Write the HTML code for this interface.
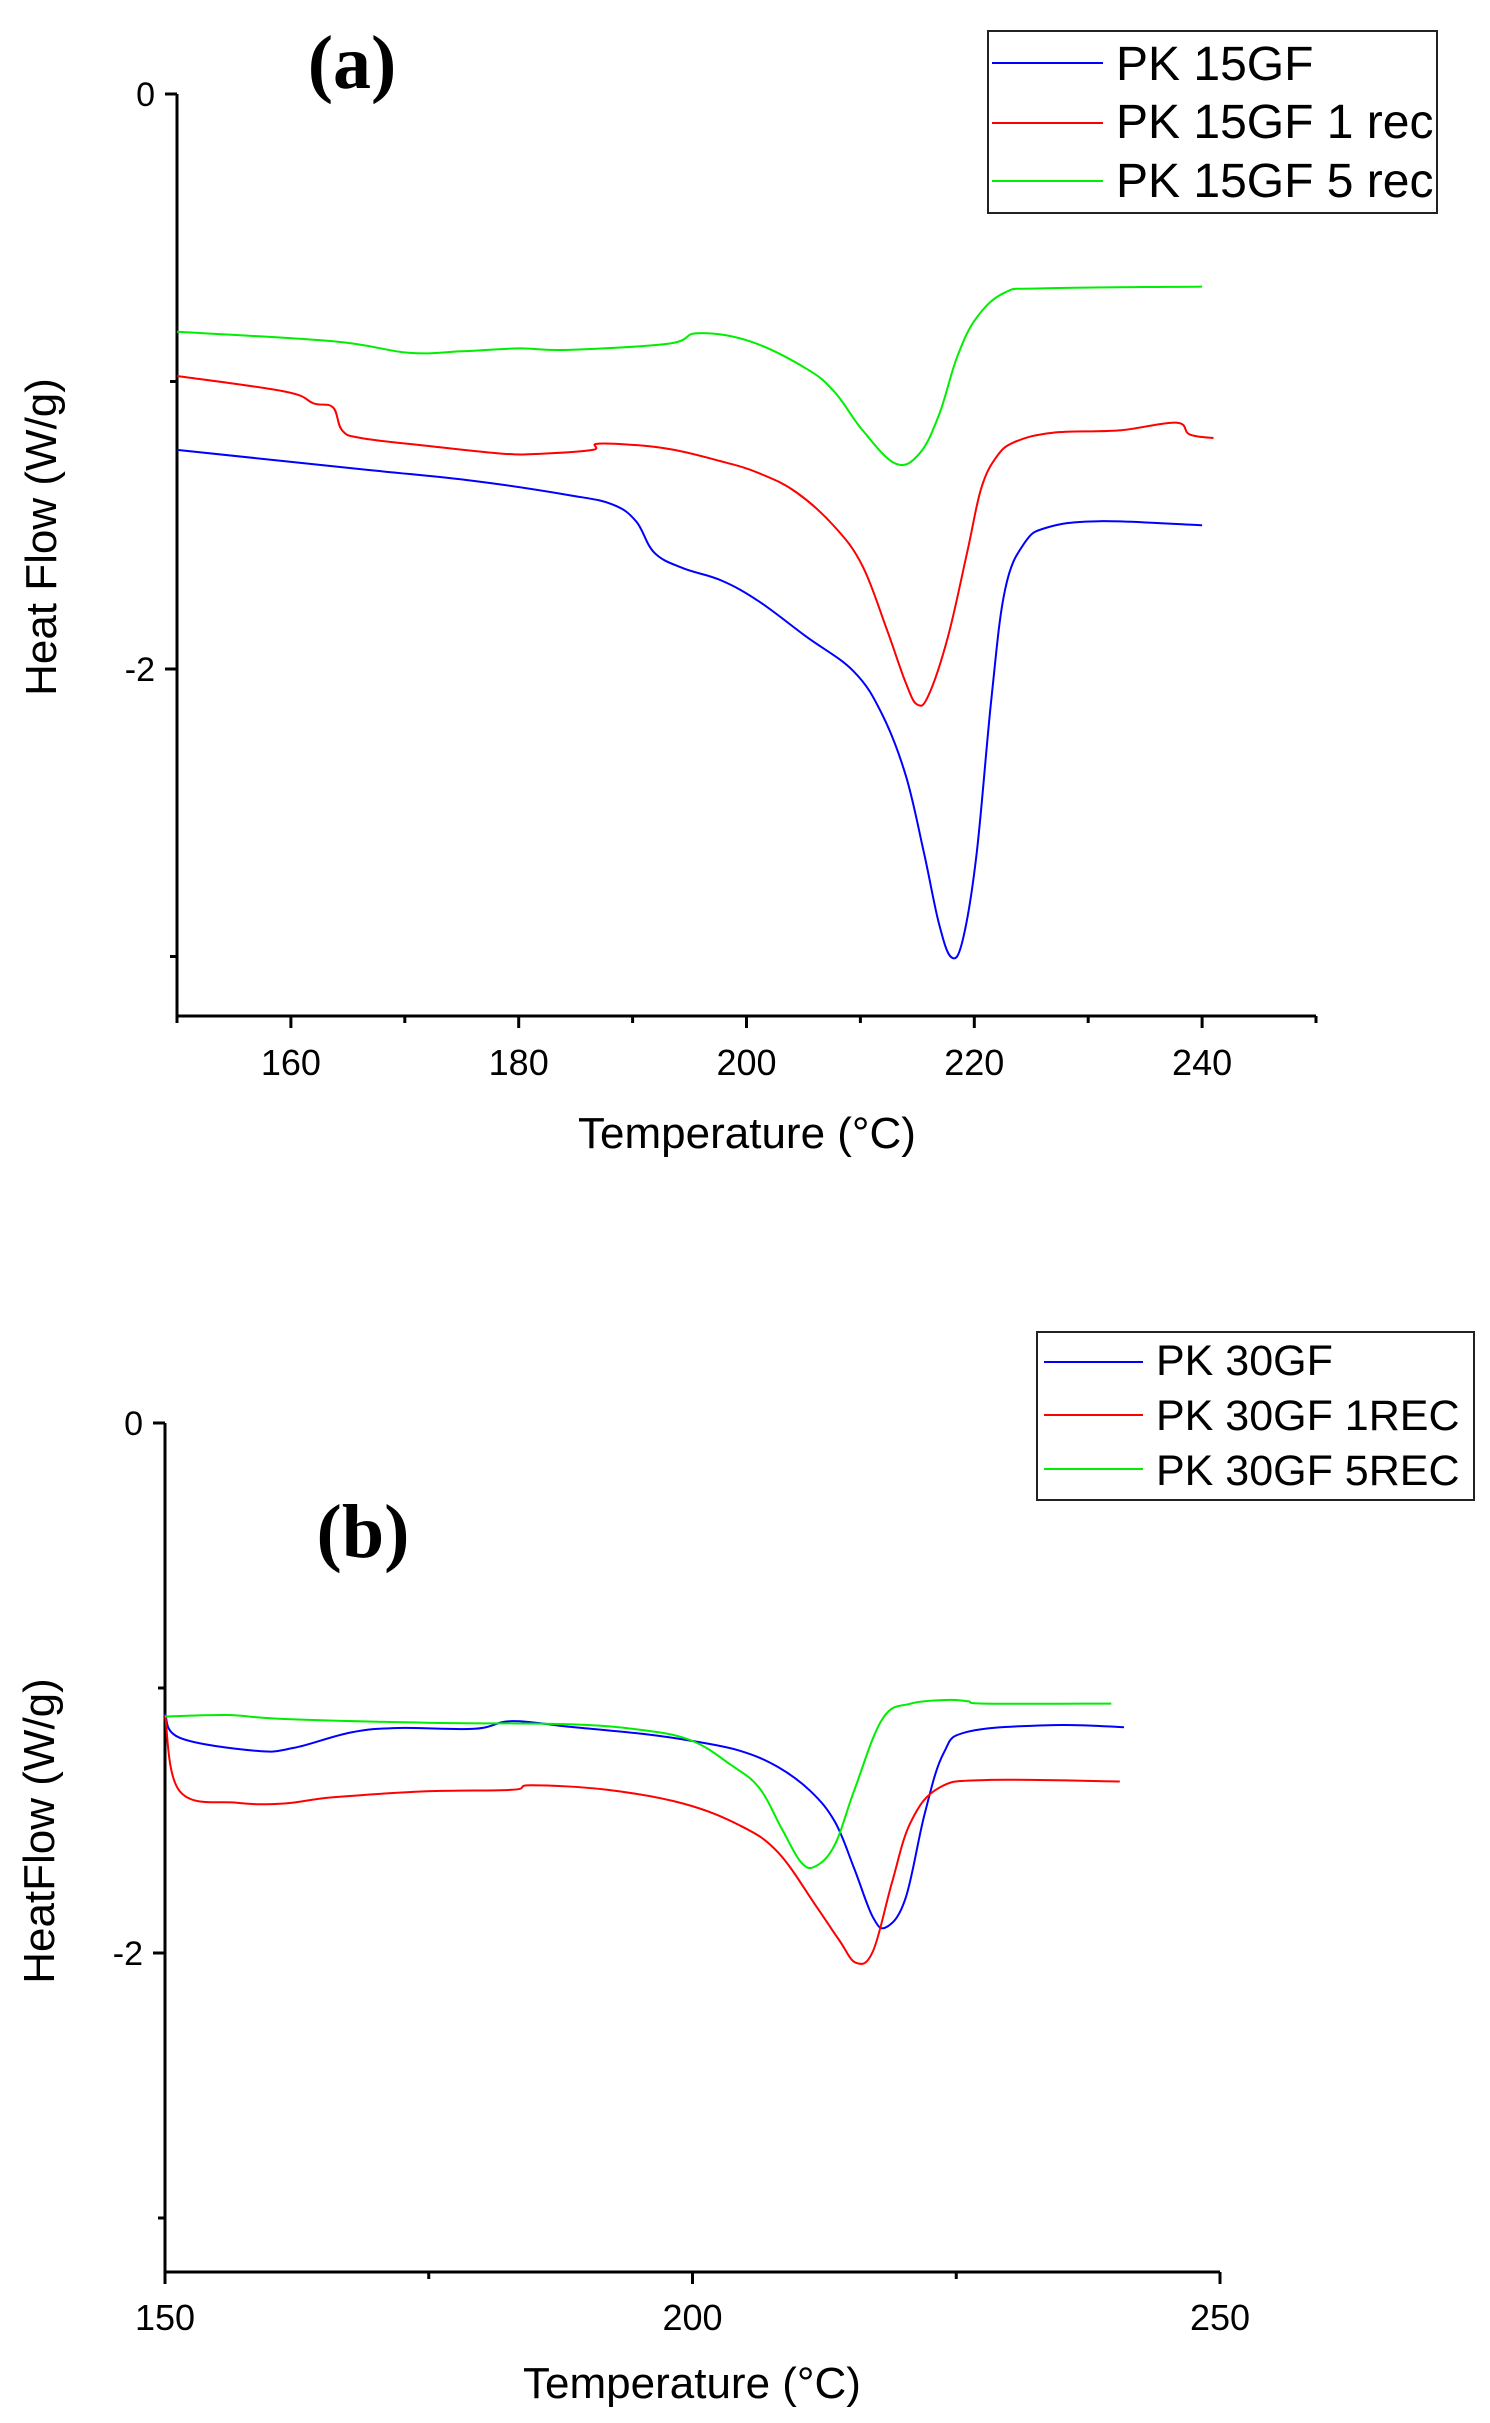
<!DOCTYPE html>
<html><head><meta charset="utf-8"><style>
html,body{margin:0;padding:0;background:#fff;}
svg{display:block;}
text{font-family:"Liberation Sans",sans-serif;fill:#000;}
</style></head><body>
<svg id="fig" width="1490" height="2423" viewBox="0 0 1490 2423" xmlns="http://www.w3.org/2000/svg">
<rect width="1490" height="2423" fill="#fff"/>
<g id="chartA"></g>
<g id="chartB"></g>
</svg>
<script>
// ---- Chart (a) data ----
const aTicksX = [160, 180, 200, 220, 240];
const aTicksY = [0, -2];
const aBlueT = [150,166.2,176.1,184.4,188.2,190.3,191.9,194.4,197.8,201.1,205.2,209.4,211.9,214,215.6,216.9,218,219,220.2,221.5,222.7,224.4,226.4,231,240];
const aBlueH = [-1.238,-1.305,-1.346,-1.395,-1.427,-1.486,-1.595,-1.649,-1.692,-1.765,-1.886,-2.008,-2.157,-2.373,-2.643,-2.886,-3.003,-2.94,-2.643,-2.103,-1.724,-1.562,-1.508,-1.486,-1.5];
const aRedT = [150,159.5,162,163.7,164.5,166.2,172,178.6,182,186.5,187.1,192.8,197.8,201.1,204.4,207.8,210.2,212.3,214,215,216,217.7,219.4,220.6,221.9,223.5,226.9,232.7,237.7,238.9,241];
const aRedH = [-0.981,-1.035,-1.076,-1.09,-1.17,-1.197,-1.224,-1.251,-1.251,-1.238,-1.216,-1.232,-1.278,-1.319,-1.386,-1.508,-1.643,-1.86,-2.05,-2.124,-2.09,-1.886,-1.589,-1.373,-1.265,-1.211,-1.178,-1.17,-1.143,-1.184,-1.197];
const aGreenT = [150,163.7,170.3,175,180,184.4,193.2,195.7,200.3,205.2,207.7,210.2,213.1,215.2,216.9,218.5,220.2,222.7,226,240];
const aGreenH = [-0.827,-0.86,-0.9,-0.895,-0.885,-0.89,-0.868,-0.832,-0.86,-0.954,-1.035,-1.17,-1.286,-1.25,-1.116,-0.914,-0.778,-0.69,-0.676,-0.67];
const aLegend = ["PK 15GF","PK 15GF 1 rec","PK 15GF 5 rec"];

// ---- Chart (b) data ----
const bTicksX = [150, 200, 250];
const bTicksY = [0, -2];
const bBlueT = [150,151.4,158.6,162.2,167.6,172.1,179.3,182.9,188.3,195.5,200,204.5,208.1,211.2,213.5,215.3,217.1,218.4,220.2,222,223.8,226.1,234.2,240.9];
const bBlueH = [-1.096,-1.188,-1.237,-1.226,-1.168,-1.151,-1.154,-1.125,-1.146,-1.174,-1.2,-1.237,-1.298,-1.39,-1.505,-1.678,-1.865,-1.902,-1.793,-1.476,-1.246,-1.165,-1.14,-1.148];
const bRedT = [150,151.4,156.8,161.3,165.8,174.8,182.9,184.7,191.9,199.1,204.5,208.1,211.7,213.9,215.5,217.1,218.9,220.7,223.4,227.9,240.5];
const bRedH = [-1.102,-1.39,-1.433,-1.436,-1.413,-1.39,-1.384,-1.367,-1.384,-1.436,-1.519,-1.62,-1.822,-1.951,-2.037,-1.994,-1.735,-1.505,-1.376,-1.347,-1.353];
const bGreenT = [150,155.9,161.3,174.8,188.3,195.5,200,203.6,206.3,208.5,210.3,211.7,213.5,215.3,218,220.7,224.3,226.1,227.9,239.7];
const bGreenH = [-1.108,-1.102,-1.117,-1.131,-1.137,-1.16,-1.2,-1.289,-1.376,-1.534,-1.658,-1.672,-1.591,-1.39,-1.117,-1.059,-1.045,-1.05,-1.059,-1.059];
const bLegend = ["PK 30GF","PK 30GF 1REC","PK 30GF 5REC"];

const NS = "http://www.w3.org/2000/svg";
function mk(parent, tag, attrs, txt){
  const e = document.createElementNS(NS, tag);
  for (const k in attrs) e.setAttribute(k, attrs[k]);
  if (txt !== undefined) e.textContent = txt;
  parent.appendChild(e);
  return e;
}
const COLORS = ["#0000ff","#ff0000","#00ee00"];

function smoothPath(pts){
  let d = "M" + pts[0][0].toFixed(1) + "," + pts[0][1].toFixed(1);
  const k = 0.18;
  for (let i = 0; i < pts.length - 1; i++){
    const p0 = pts[i-1] || pts[i], p1 = pts[i], p2 = pts[i+1], p3 = pts[i+2] || p2;
    const c1x = p1[0] + (p2[0]-p0[0])*k, c1y = p1[1] + (p2[1]-p0[1])*k;
    const c2x = p2[0] - (p3[0]-p1[0])*k, c2y = p2[1] - (p3[1]-p1[1])*k;
    d += " C" + c1x.toFixed(1) + "," + c1y.toFixed(1) + " " + c2x.toFixed(1) + "," + c2y.toFixed(1) + " " + p2[0].toFixed(1) + "," + p2[1].toFixed(1);
  }
  return d;
}

function drawChart(g, cfg){
  const sx = t => cfg.x0 + (t - cfg.tmin) * (cfg.x1 - cfg.x0) / (cfg.tmax - cfg.tmin);
  const sy = h => cfg.y0 + (0 - h) * (cfg.yM2 - cfg.y0) / 2;
  const ya = mk(g, "line", {x1:cfg.x0, y1:cfg.y0, x2:cfg.x0, y2:cfg.yb, stroke:"#000","stroke-width":3});
  
  
  const xa = mk(g, "line", {x1:cfg.x0-1, y1:cfg.yb, x2:cfg.x1, y2:cfg.yb, stroke:"#000","stroke-width":3});
  
  
  cfg.yTicks.forEach(v => {
    const y = sy(v);
    const t = mk(g, "line", {x1:cfg.x0-12, y1:y, x2:cfg.x0, y2:y, stroke:"#000","stroke-width":3});
    
    
    const l = mk(g, "text", {x:cfg.x0-22, y:y+12, "text-anchor":"end","font-size":34}, String(v));
    
    
  });
  cfg.yMinor.forEach(v => {
    const y = sy(v);
    const t = mk(g, "line", {x1:cfg.x0-7, y1:y, x2:cfg.x0, y2:y, stroke:"#000","stroke-width":3});
    
    
  });
  cfg.xMinor.forEach(v => {
    const x = sx(v);
    const t = mk(g, "line", {x1:x, y1:cfg.yb, x2:x, y2:cfg.yb+7, stroke:"#000","stroke-width":3});
    
    
  });
  cfg.xTicks.forEach(v => {
    const x = sx(v);
    const t = mk(g, "line", {x1:x, y1:cfg.yb, x2:x, y2:cfg.yb+12, stroke:"#000","stroke-width":3});
    
    
    const l = mk(g, "text", {x:x, y:cfg.xLabY, "text-anchor":"middle","font-size":36}, String(v));
    
    
  });
  const xt = mk(g, "text", {x:cfg.xTitleX, y:cfg.xTitleY, "text-anchor":"middle","font-size":44}, "Temperature (°C)");
  
  
  const yt = mk(g, "text", {x:0, y:0, "text-anchor":"middle","font-size":44, transform:`translate(${cfg.yTitleX},${cfg.yTitleY}) rotate(-90)`}, cfg.yTitle);
  
  
  const pl = mk(g, "text", {x:cfg.panelX, y:cfg.panelY, "text-anchor":"middle","font-size":76,"font-weight":"bold",style:"font-family:'Liberation Serif',serif"}, cfg.panel);
  
  
  cfg.series.forEach((s, i) => {
    const pts = s.T.map((t, k) => [sx(t), sy(s.H[k])]);
    const p = mk(g, "path", {d:smoothPath(pts), fill:"none", stroke:COLORS[i], "stroke-width":2, "stroke-linejoin":"round"});
    
    
  });
  const L = cfg.legend;
  const lg = mk(g, "g", {});
  
  
  mk(lg, "rect", {x:L.x, y:L.y, width:L.w, height:L.h, fill:"#fff", stroke:"#222","stroke-width":2});
  cfg.legendLabels.forEach((lab, i) => {
    const e = mk(lg, "g", {});
    
    
    mk(e, "line", {x1:L.lx0, x2:L.lx1, y1:L.ly[i], y2:L.ly[i], stroke:COLORS[i], "stroke-width":2});
    mk(e, "text", {x:L.tx, y:L.ty[i], "font-size":L.fs}, lab);
  });
}

drawChart(document.getElementById("chartA"), {
  x0:177, x1:1316, tmin:150, tmax:250, y0:94, yM2:669, yb:1016,
  yTicks:aTicksY, yMinor:[-1,-3], xTicks:aTicksX, xMinor:[150,170,190,210,230,250],
  xLabY:1075, xTitleX:747, xTitleY:1148, yTitle:"Heat Flow (W/g)", yTitleX:56, yTitleY:537,
  panel:"(a)", panelX:352, panelY:88,
  series:[{name:"series-pk15gf",T:aBlueT,H:aBlueH},{name:"series-pk15gf-1rec",T:aRedT,H:aRedH},{name:"series-pk15gf-5rec",T:aGreenT,H:aGreenH}],
  legendLabels:aLegend,
  legend:{x:988,y:31,w:449,h:182,lx0:992,lx1:1103,ly:[63,123,181],tx:1116,ty:[80,138,197],fs:48}
});
drawChart(document.getElementById("chartB"), {
  x0:165, x1:1220, tmin:150, tmax:250, y0:1423, yM2:1953, yb:2272,
  yTicks:bTicksY, yMinor:[-1,-3], xTicks:bTicksX, xMinor:[175,225],
  xLabY:2330, xTitleX:692, xTitleY:2398, yTitle:"HeatFlow (W/g)", yTitleX:54, yTitleY:1831,
  panel:"(b)", panelX:363, panelY:1557,
  series:[{name:"series-pk30gf",T:bBlueT,H:bBlueH},{name:"series-pk30gf-1rec",T:bRedT,H:bRedH},{name:"series-pk30gf-5rec",T:bGreenT,H:bGreenH}],
  legendLabels:bLegend,
  legend:{x:1037,y:1332,w:437,h:168,lx0:1044,lx1:1143,ly:[1362,1415,1469],tx:1156,ty:[1375,1430,1485],fs:43}
});
</script>
</body></html>
